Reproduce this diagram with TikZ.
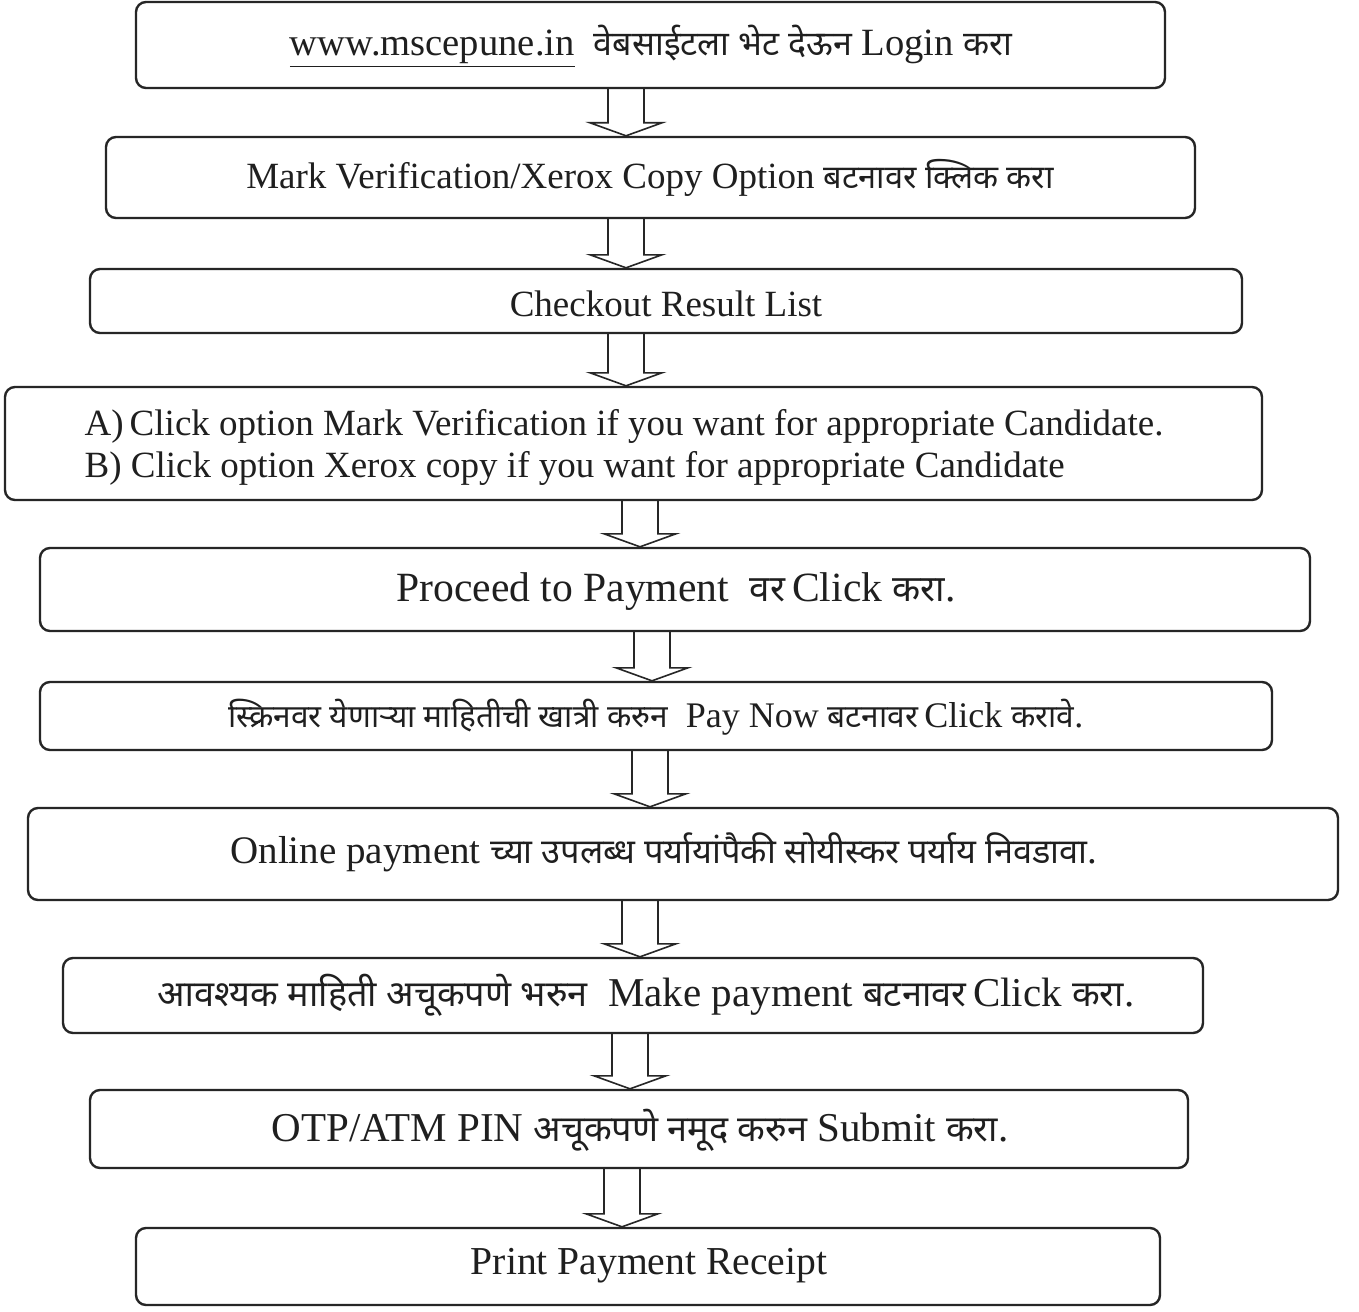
\documentclass[tikz,border=0pt]{standalone}
\usepackage{fontspec}
\setmainfont{Liberation Serif}
\newfontfamily\dev[Script=Devanagari,Scale=0.88]{Noto Sans}
\usetikzlibrary{calc}
\tikzset{
  box/.style={draw=black!85, line width=1.2pt, rounded corners=5pt, fill=white, inner sep=0pt},
  txt/.style={inner sep=0pt, text=black!88, anchor=center},
  arr/.style={draw=black!85, line width=0.8pt, line join=miter}
}
\newcommand{\flowarrow}[3]{%
  \draw[arr] let \p1=(#1.south), \p2=(#2.north) in
   ({(#3-18)*0.5pt},\y1) -- ({(#3-18)*0.5pt},\y2+6.5pt) -- ({(#3-36)*0.5pt},\y2+6.5pt)
   -- ({#3*0.5pt},\y2) -- ({(#3+36)*0.5pt},\y2+6.5pt) -- ({(#3+18)*0.5pt},\y2+6.5pt)
   -- ({(#3+18)*0.5pt},\y1);
}
\begin{document}
\begin{tikzpicture}[x=0.5pt,y=-0.5pt]
\useasboundingbox[fill=white] (0,0) rectangle (1359,1311);
% boxes
\node[box, minimum width=514.5pt, minimum height=43pt] (b1) at (650.5,45) {};
\node[box, minimum width=544.5pt, minimum height=40.5pt] (b2) at (650.5,177.5) {};
\node[box, minimum width=576pt, minimum height=32pt] (b3) at (666,301) {};
\node[box, minimum width=628.5pt, minimum height=56.5pt] (b4) at (633.5,443.5) {};
\node[box, minimum width=635pt, minimum height=41.5pt] (b5) at (675,589.5) {};
\node[box, minimum width=616pt, minimum height=34pt] (b6) at (656,716) {};
\node[box, minimum width=655pt, minimum height=46pt] (b7) at (683,854) {};
\node[box, minimum width=570pt, minimum height=37.5pt] (b8) at (633,995.5) {};
\node[box, minimum width=549pt, minimum height=39pt] (b9) at (639,1129) {};
\node[box, minimum width=512pt, minimum height=38.5pt] (b10) at (648,1266.5) {};
% texts
\node[txt, font=\fontsize{19.3pt}{22pt}\selectfont] (t1) at (651,46) {\underline{www.mscepune.in}\ \ {\dev वेबसाईटला भेट देऊन} Login {\dev करा}};
\node[txt, font=\fontsize{18.5pt}{22pt}\selectfont] (t2) at (650,178) {Mark Verification/Xerox Copy Option {\dev बटनावर क्लिक करा}};
\node[txt, font=\fontsize{18.5pt}{22pt}\selectfont] (t3) at (666,304) {Checkout Result List};
\node[txt, font=\fontsize{18.5pt}{21pt}\selectfont, align=left] (t4) at (624,447) {A)\,Click option Mark Verification if you want for appropriate Candidate.\\B) Click option Xerox copy if you want for appropriate Candidate};
\node[txt, font=\fontsize{20.8pt}{24pt}\selectfont] (t5) at (676,592) {Proceed to Payment\ \ {\dev वर}\,Click {\dev करा}.};
\node[txt, font=\fontsize{18pt}{21pt}\selectfont] (t6) at (656,717) {{\dev स्क्रिनवर येणाऱ्या माहितीची खात्री करुन}\ \ Pay Now {\dev बटनावर}\,Click {\dev करावे}.};
\node[txt, font=\fontsize{19.5pt}{24pt}\selectfont] (t7) at (664,852) {Online payment {\dev च्या उपलब्ध पर्यायांपैकी सोयीस्कर पर्याय निवडावा}.};
\node[txt, font=\fontsize{20.5pt}{22pt}\selectfont] (t8) at (646,995) {{\dev आवश्यक माहिती अचूकपणे भरुन}\ \ Make payment {\dev बटनावर}\,Click {\dev करा}.};
\node[txt, font=\fontsize{20.5pt}{22pt}\selectfont] (t9) at (640,1130) {OTP/ATM PIN {\dev अचूकपणे नमूद करुन} Submit {\dev करा}.};
\node[txt, font=\fontsize{19.8pt}{22pt}\selectfont] (t10) at (649,1266) {Print Payment Receipt};
% arrows
\flowarrow{b1}{b2}{626}
\flowarrow{b2}{b3}{626}
\flowarrow{b3}{b4}{626}
\flowarrow{b4}{b5}{640}
\flowarrow{b5}{b6}{652}
\flowarrow{b6}{b7}{650}
\flowarrow{b7}{b8}{640}
\flowarrow{b8}{b9}{630}
\flowarrow{b9}{b10}{622}
\end{tikzpicture}
\end{document}
